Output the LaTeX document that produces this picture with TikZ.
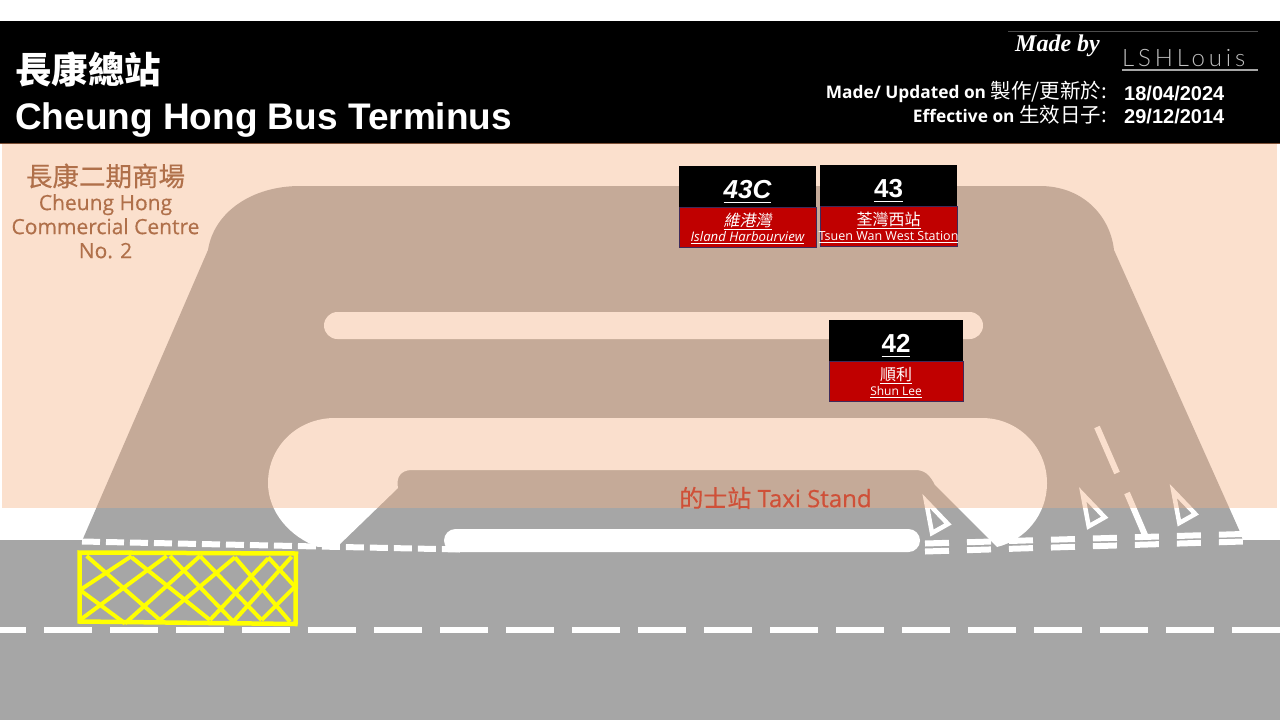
\documentclass[tikz,border=0pt]{standalone}
\usepackage{fontspec}
\setmainfont{Open Sans}
\newfontfamily\arialfont{Liberation Sans}
\newfontfamily\cjkfont{Noto Sans CJK TC}
\newfontfamily\cjkslant[FakeSlant=0.2]{Noto Sans CJK TC}
\newfontfamily\heavyfont[FakeBold=0.5]{Open Sans}
\newfontfamily\cjkheavy[FakeBold=0.5]{Noto Sans CJK TC}
\newfontfamily\signfont{Liberation Serif}
\newfontfamily\authorfont[LetterSpace=16]{Lato Light}
\usepackage{xcolor}
\usetikzlibrary{positioning}
\definecolor{roadgrey}{HTML}{A6A6A6}
\definecolor{mallpeach}{HTML}{F4B183}
\definecolor{mallbrown}{HTML}{B0704A}
\definecolor{taxired}{HTML}{CF5038}
\definecolor{boxred}{HTML}{C00000}
\definecolor{boxedge}{HTML}{3F2A5A}
\definecolor{markyellow}{HTML}{FFFF00}
\newcommand{\routeline}[2]{\setbox0\hbox{#2}\leavevmode\rlap{\smash{\rule[-#1]{\wd0}{1pt}}}\box0}
\newcommand{\strutzh}{\rule{0pt}{16pt}}
\newcommand{\struten}{\rule[-3pt]{0pt}{12pt}}
\tikzset{
routenum/.style = {fill=black, text=white, minimum width=137pt, minimum height=41pt, text height=23pt, text depth=0pt, inner sep=0pt, outer sep=0pt, font=\arialfont\bfseries\fontsize{26}{28}\selectfont},
routedest/.style = {fill=boxred, draw=boxedge, thin, text=white, minimum width=136.6pt, minimum height=40.6pt, inner sep=0pt, outer sep=0pt, align=center, font=\fontsize{12}{15.5}\selectfont},
roaddash/.style = {white, line width=6pt, dash pattern=on 24pt off 18pt},
giveway/.style = {white, line width=4.5pt, line join=miter},
hatch/.style = {markyellow, line width=4pt},
titletext/.style = {text=white, inner sep=0pt, anchor=base west},
infotext/.style = {text=white, inner sep=0pt, anchor=base east, font=\bfseries\fontsize{17.3}{20}\selectfont},
datetext/.style = {text=white, inner sep=0pt, anchor=base west, font=\arialfont\bfseries\fontsize{20}{22}\selectfont}
}
\begin{document}
\begin{tikzpicture}[x=1pt,y=-1pt]
	\useasboundingbox (0,0) rectangle (1280,720);
	% road and bus lot
	\fill[roadgrey] (0,540) rectangle (1280,720);
	\fill[roadgrey] (82,541) -- (208,250) .. controls (214,212) and (252,186) .. (300,186) -- (1040,186) .. controls (1082,186) and (1110,215) .. (1114,250) -- (1240,532) -- (1243,541) -- cycle;
	% islands
	\fill[white, rounded corners=13.5pt] (324,312) rectangle (983,339);
	\fill[white] (335,418) -- (982,418) .. controls (1018,418) and (1047,447) .. (1047,483) .. controls (1047,515) and (1025,540) .. (997,547) -- (935,485) .. controls (930,475) and (925,470) .. (915,470) -- (412,470) .. controls (400,470) and (396,478) .. (398,488) -- (338,546) -- (318,547) .. controls (290,537) and (268,512) .. (268,483) .. controls (268,447) and (297,418) .. (335,418) -- cycle;
	\fill[white, rounded corners=11.5pt] (444,529) rectangle (920,552);
	% road markings
	\draw[white, line width=6pt, dash pattern=on 48pt off 18pt, dash phase=22pt] (0,630) -- (1280,630);
	\draw[white, line width=6pt, dash pattern=on 18pt off 6pt] (82,541.5) -- (460,549.5);
	\draw[roaddash] (925,543.5) -- (1243,534);
	\draw[roaddash] (925,551.5) -- (1243,541.5);
	\draw[white, line width=6pt] (1097,427) -- (1117,473);
	\draw[white, line width=6pt] (1127,493) -- (1145,535);
	\foreach \dx/\dy in {0/0,156.7/-6.7,247.3/-10}{
		\draw[giveway, shift={(\dx,\dy)}] (926,501) -- (948,524) -- (932,533) -- cycle;
	}
	% yellow box
	\draw[markyellow, line width=4.5pt] (79.5,552.5) -- (296,553.5) -- (295.5,624) -- (79.5,621.5) -- cycle;
	\begin{scope}[shift={(60,500)},scale=0.3333]
		\foreach \ax/\ay/\bx/\by in {60/270/195/370,80/168/300/360,215/172/450/360,330/168/520/365,420/168/605/360,525/172/690/365,625/172/705/260,215/168/60/270,320/168/60/360,420/168/195/370,525/172/300/360,625/175/450/360,695/170/520/365,705/260/605/360}{
			\draw[hatch] (\ax,\ay) -- (\bx,\by);
		}
	\end{scope}
	% mall overlay
	\fill[mallpeach, fill opacity=0.4] (2,144) rectangle (1277,508);
	% header
	\fill[black] (0,21) rectangle (1280,143);
	\fill[mallbrown!70!black] (0,143) rectangle (1280,144);
	\node[titletext, font=\cjkfont\bfseries\fontsize{36.5}{40}\selectfont] (titlezh) at (15,83) {長康總站};
	\node[titletext, font=\arialfont\bfseries\fontsize{37}{40}\selectfont] (titleen) at (15,129.5) {Cheung Hong Bus Terminus};
	\draw[gray!60!black, thin] (1008,31) -- (1258,31);
	\node[inner sep=0pt, anchor=base west, text=white, font=\signfont\bfseries\itshape\fontsize{24}{26}\selectfont] (madeby) at (1015,51) {Made by};
	\node[inner sep=0pt, anchor=base west, text=lightgray, font=\authorfont\fontsize{24}{27}\selectfont] (author) at (1122,66) {LSHLouis};
	\draw[gray!70!white, line width=2.5pt] (1122,70) -- (1258,70);
	\node[infotext] (madeon) at (1107,98) {Made/ Updated on {\cjkfont\mdseries\fontsize{20.5}{22}\selectfont 製作/更新於:}};
	\node[infotext] (effon) at (1107,122) {Effective on {\cjkfont\mdseries\fontsize{20.5}{22}\selectfont 生效日子:}};
	\node[datetext] (madedate) at (1124,100) {18/04/2024};
	\node[datetext] (effdate) at (1124,123.5) {29/12/2014};
	% mall and taxi labels
	\node[text=mallbrown, align=center, inner sep=0pt, font=\heavyfont\fontsize{21}{24}\selectfont] (mall) at (105.5,211) {{\cjkheavy\fontsize{26.5}{28}\selectfont 長康二期商場}\\Cheung Hong\\Commercial Centre\\No. 2};
	\node[text=taxired, inner sep=0pt, font=\heavyfont\fontsize{24}{26}\selectfont] (taxi) at (775.5,498) {{\cjkheavy 的士站} Taxi Stand};
	% route boxes
	\node[routenum] (r43cnum) at (747.5,186.5) {\routeline{5pt}{\itshape 43C}};
	\node[routedest, below=0pt of r43cnum] (r43cdest) {\strutzh\routeline{3.5pt}{\cjkslant\fontsize{16}{15}\selectfont 維港灣}\\\struten\makebox[100pt]{\routeline{2.5pt}{\itshape\fontsize{13.2}{15}\selectfont Island Harbourview}}};
	\node[routenum] (r43num) at (888.5,185.5) {\routeline{5pt}{43}};
	\node[routedest, below=0pt of r43num] (r43dest) {\strutzh\routeline{3.5pt}{\cjkfont\fontsize{16}{15}\selectfont 荃灣西站}\\\struten\makebox[100pt]{\routeline{2.5pt}{\fontsize{12.5}{15}\selectfont Tsuen Wan West Station}}};
	\node[routenum, minimum width=134pt] (r42num) at (896,340.5) {\routeline{5pt}{42}};
	\node[routedest, minimum width=133.6pt, below=0pt of r42num] (r42dest) {\strutzh\routeline{3.5pt}{\cjkfont\fontsize{16}{15}\selectfont 順利}\\\struten\routeline{2.5pt}{\fontsize{12}{15}\selectfont Shun Lee}};
\end{tikzpicture}
\end{document}
